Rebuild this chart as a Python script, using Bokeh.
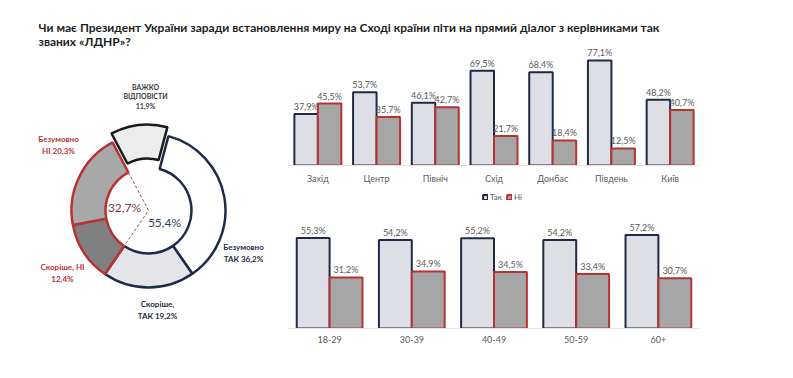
import math
from bokeh.plotting import figure
from bokeh.models import Range1d, FactorRange, ColumnDataSource, Label, Legend, LegendItem
from bokeh.transform import dodge
from bokeh.layouts import column, row
from bokeh.core.properties import value
from bokeh.embed import file_html
from bokeh.resources import INLINE

# ---------------- data ----------------
title_lines = [
    "Чи має Президент України заради встановлення миру на Сході країни піти на прямий діалог з керівниками так",
    "званих «ЛДНР»?",
]
slice_names = ["Безумовно ТАК", "Скоріше ТАК", "Скоріше НІ", "Безумовно НІ", "Важко відповісти"]
slice_values = [36.2, 19.2, 12.4, 20.3, 11.9]
slice_texts = ["Безумовно\nТАК 36,2%", "Скоріше,\nТАК 19,2%", "Скоріше, НІ\n12,4%",
               "Безумовно\nНІ 20,3%", "ВАЖКО\nВІДПОВІСТИ\n11,9%"]
group_texts = ["55,4%", "32,7%"]

regions = ["Захід", "Центр", "Північ", "Схід", "Донбас", "Південь", "Київ"]
region_tak = [37.9, 53.7, 46.1, 69.5, 68.4, 77.1, 48.2]
region_ni = [45.5, 35.7, 42.7, 21.7, 18.4, 12.5, 40.7]

ages = ["18-29", "30-39", "40-49", "50-59", "60+"]
age_tak = [55.3, 54.2, 55.2, 54.2, 57.2]
age_ni = [31.2, 34.9, 34.5, 33.4, 30.7]

legend_labels = ["Так", "Ні"]

# ---------------- styles ----------------
FONT = "Lato"
NAVY = "#1f2a48"
RED = "#b83232"
LBL = "#595959"
TAK_FILL = "#dedfe5"
NI_FILL = "#a6a6a6"
slice_fill = ["#ffffff", "#e4e4e9", "#808080", "#a8a8a8", "#ececec"]
slice_line = [NAVY, NAVY, RED, RED, "#1a1a1a"]
slice_text_color = [NAVY, NAVY, RED, RED, "#3a3a3a"]
slice_explode = [0, 0, 0, 0, 9]
# label anchor offsets from donut centre (px)
slice_text_pos = [(95, -42), (9, -99), (-86, -62.5), (-90, 65.5), (-3, 114)]

TITLE_H = 48


def fmt(v):
    return f"{v:.1f}%".replace(".", ",")


# ---------------- title ----------------
tfig = figure(width=793, height=TITLE_H, x_range=Range1d(0, 793), y_range=Range1d(0, TITLE_H),
              min_border=0, toolbar_location=None, output_backend="svg",
              x_axis_location=None, y_axis_location=None)
tfig.grid.visible = False
tfig.outline_line_color = None
for i, line in enumerate(title_lines):
    tfig.add_layout(Label(x=38, y=TITLE_H - 26.8 - i * 14.0, x_units="screen", y_units="screen",
                          text=line, text_font=FONT, text_font_style="bold",
                          text_font_size="12px", text_color="#1e1e1e",
                          text_baseline="alphabetic"))

# ---------------- donut ----------------
R_IN, R_OUT = 43, 77
dfig = figure(width=275, height=378 - TITLE_H, x_range=Range1d(-148, 127),
              y_range=Range1d(-168, 210 - TITLE_H),
              min_border=0, toolbar_location=None, output_backend="svg",
              x_axis_location=None, y_axis_location=None)
dfig.grid.visible = False
dfig.outline_line_color = None

total = sum(slice_values)
acc = 15.0
starts, ends, xs, ys, bounds = [], [], [], [], []
for v, e in zip(slice_values, slice_explode):
    a0 = acc
    a1 = acc + v / total * 360.0
    acc = a1
    mid = math.radians((a0 + a1) / 2)
    xs.append(e * math.sin(mid))
    ys.append(e * math.cos(mid))
    starts.append(math.radians(90 - a0))
    ends.append(math.radians(90 - a1))
    bounds.append(a1)

dsrc = ColumnDataSource(dict(x=xs, y=ys, s=starts, e=ends, fill=slice_fill, line=slice_line))
dfig.annular_wedge(x="x", y="y", inner_radius=R_IN, outer_radius=R_OUT, start_angle="s",
                   end_angle="e", direction="clock", fill_color="fill", line_color="line",
                   line_width=2.5, source=dsrc)

# dashed divider between "так" and "ні" groups
b_ni = math.radians(bounds[3])
b_tak = math.radians(bounds[1])
dfig.line(x=[R_IN * math.sin(b_ni), 0, R_IN * math.sin(b_tak)],
          y=[R_IN * math.cos(b_ni), 0, R_IN * math.cos(b_tak)],
          line_color="#8c5a50", line_width=1, line_dash="3 2")

dfig.text(x=[16, -24], y=[-12, 3], text=group_texts, text_font=value(FONT),
          text_font_size="12px", text_color=["#2f3d5e", "#7a3c3c"],
          text_align="center", text_baseline="middle")

lsrc = ColumnDataSource(dict(x=[p[0] for p in slice_text_pos], y=[p[1] for p in slice_text_pos],
                             t=slice_texts, c=slice_text_color,
                             fs=["8px", "8px", "8px", "8px", "7px"]))
dfig.text(x="x", y="y", text="t", text_color="c", text_font=value(FONT), text_font_style="bold",
          text_font_size="fs", text_align="center", text_baseline="middle",
          text_line_height=1.2, source=lsrc)


# ---------------- bar charts ----------------
def bar_fig(cats, tak, ni, height, b_left, b_right, b_bottom, frame_h, px_per_pct):
    src = ColumnDataSource(dict(cat=cats, tak=tak, ni=ni,
                                tl=[fmt(v) for v in tak], nl=[fmt(v) for v in ni]))
    p = figure(width=518, height=height, x_range=FactorRange(*cats),
               y_range=Range1d(0, frame_h / px_per_pct),
               min_border_left=b_left, min_border_right=b_right, min_border_top=0,
               min_border_bottom=b_bottom, toolbar_location=None, output_backend="svg",
               y_axis_location=None)
    p.grid.visible = False
    p.outline_line_color = None
    r1 = p.vbar(x=dodge("cat", -0.2, range=p.x_range), top="tak", width=0.4, source=src,
                fill_color=TAK_FILL, line_color=NAVY, line_width=2)
    r2 = p.vbar(x=dodge("cat", 0.2, range=p.x_range), top="ni", width=0.4, source=src,
                fill_color=NI_FILL, line_color=RED, line_width=2)
    for off, col in ((-0.2, "tak"), (0.2, "ni")):
        p.text(x=dodge("cat", off, range=p.x_range), y=col, text="tl" if col == "tak" else "nl",
               source=src, text_font=value(FONT), text_font_size="9px", text_color=LBL,
               text_align="center", text_baseline="bottom", y_offset=-2)
    ax = p.xaxis[0]
    ax.major_tick_line_color = None
    ax.minor_tick_line_color = None
    ax.major_tick_out = 0
    ax.major_tick_in = 0
    ax.axis_line_color = "#e3e3e3"
    ax.major_label_text_font = FONT
    ax.major_label_text_font_size = "9px"
    ax.major_label_text_color = LBL
    ax.major_label_standoff = 7
    return p, r1, r2


SPLIT = 190  # page y where the lower chart's panel begins
top, _, _ = bar_fig(regions, region_tak, region_ni, SPLIT - TITLE_H, 13, 90,
                    SPLIT - 165, 165 - TITLE_H, 1.362)
bottom, b1, b2 = bar_fig(ages, age_tak, age_ni, 378 - SPLIT, 8, 94, 50, 328 - SPLIT, 1.635)

legend = Legend(items=[LegendItem(label=legend_labels[0], renderers=[b1]),
                       LegendItem(label=legend_labels[1], renderers=[b2])],
                orientation="horizontal", location=(194, 126), padding=0, margin=0,
                spacing=4, label_standoff=2, glyph_width=6, glyph_height=6,
                label_height=8, label_width=4, label_text_font=FONT,
                label_text_font_size="8px", label_text_color=LBL,
                border_line_color=None, background_fill_alpha=0)
bottom.add_layout(legend, "center")

layout = column(tfig, row(dfig, column(top, bottom)))
open("out.html", "w").write(file_html(layout, INLINE))
